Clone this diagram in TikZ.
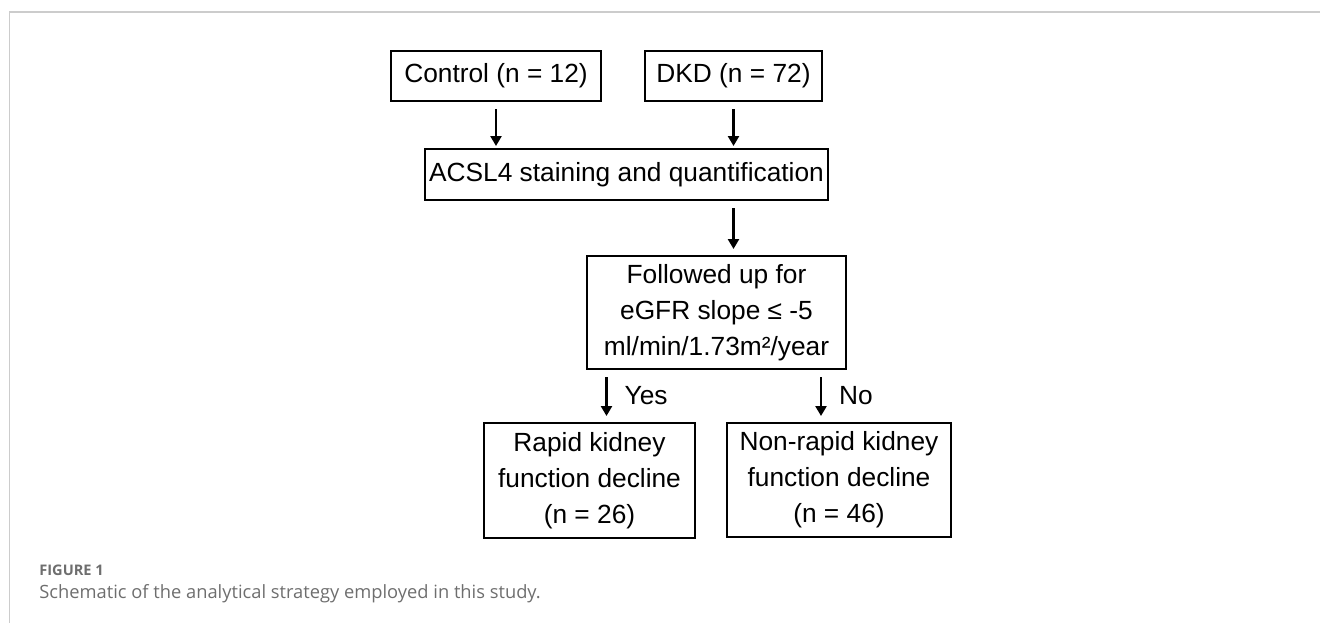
\documentclass[tikz,border=0pt]{standalone}
\usepackage{fontspec}
\setmainfont{Liberation Sans}
\newfontfamily\capfont{Open Sans}
\usetikzlibrary{arrows.meta,calc}
\definecolor{framegray}{HTML}{CCCCCC}
\definecolor{capgray}{HTML}{6E6E6E}

\begin{document}
\begin{tikzpicture}[x=0.5pt,y=-0.5pt,
    box/.style={draw,line width=1pt,inner sep=0pt,align=center,
        font=\fontsize{13.15}{18}\selectfont},
    arr/.style={-{Triangle[width=5.5pt,length=5pt]},line width=1.2pt,
        shorten <=3.5pt,shorten >=3pt},
    lab/.style={inner sep=0pt,font=\fontsize{13.15}{16}\selectfont}]
        \useasboundingbox (0,0) rectangle (1320,623);
        \draw[framegray,line width=0.75pt] (1320,12) -- (9.5,12) -- (9.5,623);

        \node[box,minimum width=105pt,minimum height=25pt] (A) at (496,76) {Control (n = 12)};
        \node[box,minimum width=88.5pt,minimum height=25pt] (B) at (733.5,76) {DKD (n = 72)};
        \node[box,minimum width=201.5pt,minimum height=25.5pt] (C) at (626.5,174.5) {ACSL4 staining and quantification};
        \node[box,minimum width=129.5pt,minimum height=56.5pt] (D) at (716.5,312.5) {Followed up for\\eGFR slope ≤ -5\\ml/min/1.73m²/year};
        \node[box,minimum width=105.5pt,minimum height=57.5pt] (E) at (589.5,480.5) {Rapid kidney\\function decline\\(n = 26)\hspace{7pt}};
        \node[box,minimum width=112pt,minimum height=57pt] (F) at (839,480) {Non-rapid kidney\\function decline\\(n = 46)};
        \coordinate (Y) at ($(E.north)+(17,0)$);
        \coordinate (N) at ($(F.north)+(-18,0)$);

            \draw[arr,shorten >=1pt] (A) -- (A |- C.north);
            \draw[arr,shorten >=1pt] (B) -- (B |- C.north);
            \draw[arr] (C.south -| B) -- (D.north -| B);
            \draw[arr] (D.south -| Y) -- (Y) node[lab,midway,right=8.5pt] {Yes};
            \draw[arr] (D.south -| N) -- (N) node[lab,midway,right=8.5pt] {No};

        \node[anchor=base west,inner sep=0pt,text=capgray,font=\capfont\bfseries\fontsize{7.3}{9}\selectfont] (G) at (39,575) {FIGURE 1};
        \node[anchor=base west,inner sep=0pt,text=capgray,font=\capfont\fontsize{9.15}{11}\selectfont] (H) at (39,598) {Schematic of the analytical strategy employed in this study.};
    \end{tikzpicture}
\end{document}
